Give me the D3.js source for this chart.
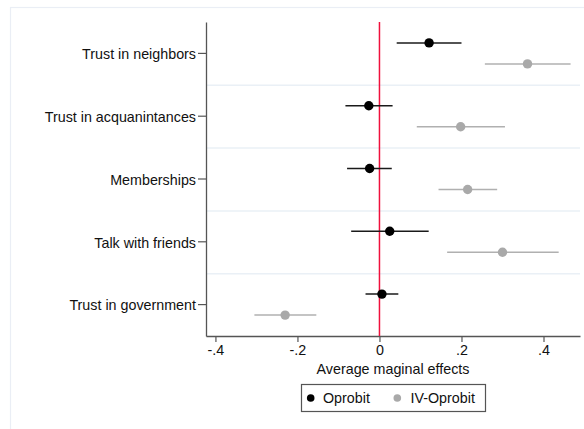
<!DOCTYPE html>
<html><head><meta charset="utf-8">
<script src="https://cdn.jsdelivr.net/npm/d3@7/dist/d3.min.js"></script>
<style>body{margin:0;background:#fff}svg{display:block;font-family:"Liberation Sans",Arial,sans-serif}</style>
</head><body><svg id="c" width="584" height="429"></svg>
<script>
const categories = ["Trust in neighbors","Trust in acquanintances","Memberships","Talk with friends","Trust in government"];
const oprobitEst = [0.121,-0.026,-0.024,0.025,0.006];
const oprobitLo  = [0.042,-0.083,-0.079,-0.069,-0.034];
const oprobitHi  = [0.200,0.032,0.030,0.120,0.046];
const ivEst = [0.361,0.198,0.215,0.300,-0.230];
const ivLo  = [0.257,0.091,0.144,0.165,-0.305];
const ivHi  = [0.466,0.306,0.287,0.437,-0.154];
const xTicks = [-0.4,-0.2,0,0.2,0.4];
const xTickLabels = ["-.4","-.2","0",".2",".4"];
const seriesNames = ["Oprobit","IV-Oprobit"];
const seriesColors = ["#000000","#a9a9a9"];

const FS = "14.3px";
const svg = d3.select("#c");
const L=206, R=580, T=22, B=336;
const x = d3.scaleLinear().domain([-0.423,0.489]).range([L,R]);
const y = d3.scaleBand().domain(categories).range([T,B]);

// outer frame
svg.append("rect").attr("x",10.5).attr("y",7.5).attr("width",600).attr("height",500)
  .attr("fill","none").attr("stroke","#eaeef5").attr("stroke-width",1.2);

// gridlines at band boundaries
svg.append("g").selectAll("line").data(categories.slice(1)).join("line")
  .attr("x1",L).attr("x2",R)
  .attr("y1",d=>y(d)+0.5).attr("y2",d=>y(d)+0.5)
  .attr("stroke","#eaf0f6").attr("stroke-width",1.5);

// axes
const yAxis = d3.axisLeft(y).tickSize(8).tickPadding(2).tickSizeOuter(0);
const gy = svg.append("g").attr("transform",`translate(${L},0)`).call(yAxis);
gy.attr("font-family",null).attr("font-size",null);
gy.select(".domain").attr("stroke","#555").attr("stroke-width",1.3);
gy.selectAll(".tick line").attr("stroke","#555").attr("stroke-width",1.2);
gy.selectAll(".tick text").style("font-size",FS).attr("fill","#111").attr("dy","0.4em");

const xAxis = d3.axisBottom(x).tickValues(xTicks).tickFormat((d,i)=>xTickLabels[i]).tickSize(6).tickPadding(3).tickSizeOuter(0);
const gx = svg.append("g").attr("transform",`translate(0,${B})`).call(xAxis);
gx.attr("font-family",null).attr("font-size",null);
gx.select(".domain").attr("stroke","#555").attr("stroke-width",1.3);
gx.selectAll(".tick line").attr("stroke","#555").attr("stroke-width",1.2);
gx.selectAll(".tick text").style("font-size",FS).attr("fill","#111");

// zero line
svg.append("line").attr("x1",x(0)).attr("x2",x(0)).attr("y1",T).attr("y2",B)
  .attr("stroke","#f0103c").attr("stroke-width",1.5);

const series = [
  {est:oprobitEst, lo:oprobitLo, hi:oprobitHi, off:-10.5, color:seriesColors[0], line:"#1a1a1a", r:4.7},
  {est:ivEst, lo:ivLo, hi:ivHi, off:10.5, color:seriesColors[1], line:"#b0b0b0", r:4.7}
];
series.forEach(s=>{
  const g = svg.append("g");
  const cy = i => y(categories[i]) + y.bandwidth()/2 + s.off;
  g.selectAll("line").data(categories).join("line")
    .attr("x1",(d,i)=>x(s.lo[i])).attr("x2",(d,i)=>x(s.hi[i]))
    .attr("y1",(d,i)=>cy(i)).attr("y2",(d,i)=>cy(i))
    .attr("stroke",s.line).attr("stroke-width",1.5);
  g.selectAll("circle").data(categories).join("circle")
    .attr("cx",(d,i)=>x(s.est[i])).attr("cy",(d,i)=>cy(i)).attr("r",s.r)
    .attr("fill",s.color);
});

// axis title
svg.append("text").attr("x",393).attr("y",374).attr("text-anchor","middle")
  .style("font-size",FS).attr("fill","#111").text("Average maginal effects");

// legend
const lg = svg.append("g");
lg.append("rect").attr("x",301.5).attr("y",384.5).attr("width",184).attr("height",27)
  .attr("fill","#fff").attr("stroke","#555").attr("stroke-width",1.2);
const legX = [310.7,397.3];
const legTX = [323,410.5];
seriesNames.forEach((n,i)=>{
  lg.append("circle").attr("cx",legX[i]).attr("cy",398).attr("r",3.8).attr("fill",seriesColors[i]);
  lg.append("text").attr("x",legTX[i]).attr("y",403).style("font-size",FS).attr("fill","#111").text(n);
});
</script></body></html>
